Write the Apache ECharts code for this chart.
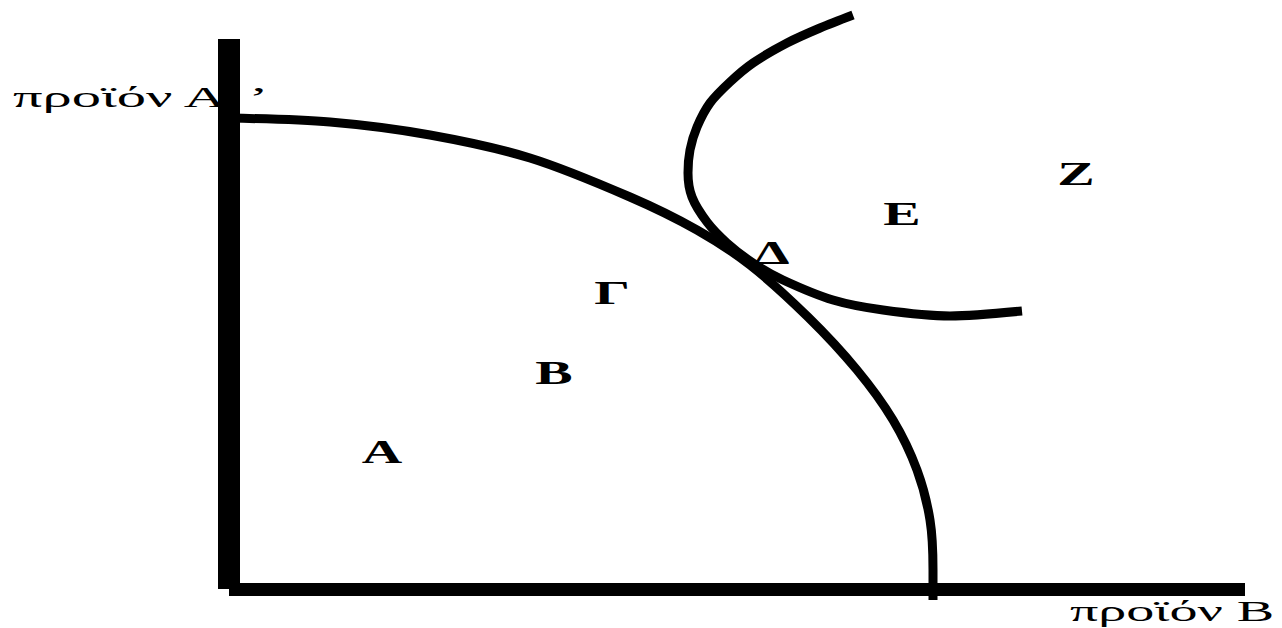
<!DOCTYPE html>
<html lang="el">
<head>
    <meta charset="UTF-8">
    <title>Καμπύλη παραγωγικών δυνατοτήτων</title>
    <script src="https://cdn.jsdelivr.net/npm/echarts@6/dist/echarts.min.js"></script>
    <style>
        html, body { margin: 0; padding: 0; background: #fff; }
    </style>
</head>
<body>
    <div id="chart" style="width: 1282px;height: 628px"></div>

    <script>
        // καμπύλη παραγωγικών δυνατοτήτων (προϊόν Β οριζόντια, προϊόν Α κάθετα)
        let ppfB = [0, 101, 201, 301, 401, 468, 521, 579, 628, 664, 688, 701, 704, 704];
        let ppfA = [471, 467, 454, 431, 392, 359, 324, 272, 219, 169, 119, 69, 19, -11];

        // καμπύλη αδιαφορίας
        let icB = [624, 591, 558, 524, 501, 481, 468, 461, 459, 463, 478, 498, 524, 554, 604, 654, 721, 793];
        let icA = [574, 561, 546, 526, 507, 486, 462, 439, 416, 392, 367, 346, 326, 309, 289, 279, 273, 278];

        // σημεία
        let pointNames = ['Α', 'Β', 'Γ', 'Δ', 'Ε', 'Ζ'];
        let pointB = [153, 325, 383, 543, 673, 847];
        let pointA = [137, 216, 296, 336, 375, 415];

        let axisNameA = 'προϊόν Α{q|’}';
        let axisNameB = 'προϊόν Β';

        let zip = (xs, ys) => xs.map((x, i) => [x, ys[i]]);

        let myChart = echarts.init(document.getElementById('chart'), null, {renderer: 'svg'});

        let option = {
            animation: false,
            backgroundColor: '#fff',
            grid: {left: 229, right: 37, top: 39, bottom: 39},
            xAxis: {
                type: 'value', min: 0, max: 1016,
                axisLine: {show: true, lineStyle: {color: '#000', width: 13, cap: 'butt'}},
                axisTick: {show: false}, axisLabel: {show: false}, splitLine: {show: false}
            },
            yAxis: {
                type: 'value', min: 0, max: 550,
                axisLine: {show: true, lineStyle: {color: '#000', width: 22, cap: 'butt'}},
                axisTick: {show: false}, axisLabel: {show: false}, splitLine: {show: false}
            },
            graphic: [
                {
                    type: 'text', x: 13, y: 97, scaleX: 1.95, z: -1,
                    style: {
                        text: axisNameA, font: '30px "Liberation Serif"', fill: '#000',
                        align: 'left', verticalAlign: 'middle',
                        rich: {q: {font: '30px "Liberation Serif"', fill: '#000', padding: [0, 0, 0, 10]}}
                    }
                },
                {
                    type: 'text', x: 1070, y: 611, scaleX: 1.87, z: 10,
                    style: {text: axisNameB, font: '30px "Liberation Serif"', fill: '#000', align: 'left', verticalAlign: 'middle'}
                }
            ],
            series: [
                {
                    type: 'line',
                    data: zip(ppfB, ppfA),
                    smooth: 0.3,
                    symbol: 'none',
                    clip: false,
                    lineStyle: {color: '#000', width: 9, cap: 'butt'}
                },
                {
                    type: 'line',
                    data: zip(icB, icA),
                    smooth: 0.3,
                    symbol: 'none',
                    clip: false,
                    lineStyle: {color: '#000', width: 9, cap: 'butt'}
                },
                {
                    type: 'custom',
                    data: zip(pointB, pointA),
                    renderItem: function (params, api) {
                        let p = api.coord([api.value(0), api.value(1)]);
                        return {
                            type: 'text',
                            x: p[0], y: p[1], scaleX: 1.65,
                            style: {
                                text: pointNames[params.dataIndex],
                                font: 'bold 34px "Liberation Serif"',
                                fill: '#000', align: 'center', verticalAlign: 'middle'
                            }
                        };
                    }
                }
            ]
        };

        myChart.setOption(option);
    </script>
</body>
</html>
